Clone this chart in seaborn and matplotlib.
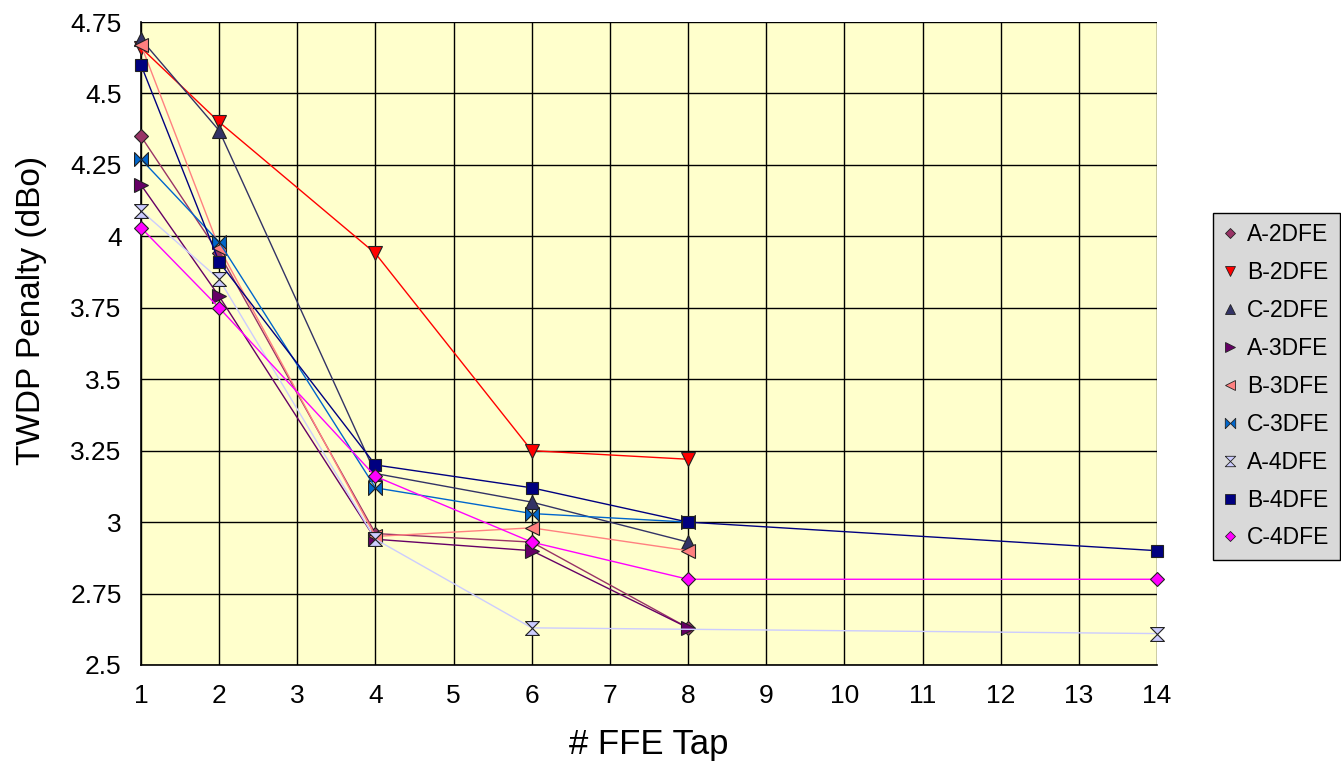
import numpy as np
import pandas as pd
import matplotlib
matplotlib.use("Agg")
import matplotlib.pyplot as plt
import seaborn as sns
from matplotlib.lines import Line2D

# ---- data ----
series_names = ["A-2DFE", "B-2DFE", "C-2DFE", "A-3DFE", "B-3DFE",
                "C-3DFE", "A-4DFE", "B-4DFE", "C-4DFE"]
x_a2 = [1, 2, 4, 6, 8];      y_a2 = [4.35, 3.94, 2.96, 2.93, 2.63]
x_b2 = [1, 2, 4, 6, 8];      y_b2 = [4.66, 4.40, 3.94, 3.25, 3.22]
x_c2 = [1, 2, 4, 6, 8];      y_c2 = [4.69, 4.37, 3.17, 3.07, 2.93]
x_a3 = [1, 2, 4, 6, 8];      y_a3 = [4.18, 3.79, 2.94, 2.90, 2.63]
x_b3 = [1, 2, 4, 6, 8];      y_b3 = [4.67, 3.96, 2.95, 2.98, 2.90]
x_c3 = [1, 2, 4, 6, 8];      y_c3 = [4.27, 3.98, 3.12, 3.03, 3.00]
x_a4 = [1, 2, 4, 6, 14];     y_a4 = [4.09, 3.85, 2.94, 2.63, 2.61]
x_b4 = [1, 2, 4, 6, 8, 14];  y_b4 = [4.60, 3.91, 3.20, 3.12, 3.00, 2.90]
x_c4 = [1, 2, 4, 6, 8, 14];  y_c4 = [4.03, 3.75, 3.16, 2.93, 2.80, 2.80]

xs = [x_a2, x_b2, x_c2, x_a3, x_b3, x_c3, x_a4, x_b4, x_c4]
ys = [y_a2, y_b2, y_c2, y_a3, y_b3, y_c3, y_a4, y_b4, y_c4]

x_ticks = list(range(1, 15))
y_ticks = [2.5, 2.75, 3, 3.25, 3.5, 3.75, 4, 4.25, 4.5, 4.75]
y_tick_labels = ["2.5", "2.75", "3", "3.25", "3.5", "3.75", "4", "4.25", "4.5", "4.75"]

# ---- styles ----
colors = ["#993366", "#FF0000", "#333366", "#660066", "#FF8080",
          "#0066CC", "#CCCCFF", "#000080", "#FF00FF"]
bowtie = [(-1, -1), (-1, 1), (0, 0), (1, 1), (1, -1), (0, 0), (-1, -1)]
hourglass = [(-1, 1), (1, 1), (0, 0), (1, -1), (-1, -1), (0, 0), (-1, 1)]
markers = ["D", "v", "^", ">", "<", bowtie, hourglass, "s", "D"]
msizes = [7, 10, 10, 10, 10, 10, 10, 9, 7]

sns.set_theme(style="white")
plt.rcParams["font.family"] = ["Liberation Sans", "DejaVu Sans"]
plt.rcParams["text.color"] = "black"
plt.rcParams["axes.labelcolor"] = "black"
plt.rcParams["xtick.color"] = "black"
plt.rcParams["ytick.color"] = "black"

fig = plt.figure(figsize=(13.41, 7.68), dpi=100)
ax = fig.add_axes([141 / 1341, 1 - 665 / 768, (1157 - 141) / 1341, (665 - 22) / 768])
ax.set_facecolor("#FFFFCC")

rows = []
for name, xv, yv in zip(series_names, xs, ys):
    for a, b in zip(xv, yv):
        rows.append({"series": name, "x": a, "y": b})
df = pd.DataFrame(rows)

for i, name in enumerate(series_names):
    sub = df[df["series"] == name]
    sns.lineplot(data=sub, x="x", y="y", ax=ax, color=colors[i], linewidth=1.0,
                 marker=markers[i], markersize=msizes[i], markeredgecolor="#222222",
                 markeredgewidth=0.8, markerfacecolor=colors[i], zorder=3 + i,
                 estimator=None, sort=False, legend=False, clip_on=False)

ax.set_xlim(1, 14)
ax.set_ylim(2.5, 4.75)
ax.set_xticks(x_ticks)
ax.set_xticklabels([str(t) for t in x_ticks], fontsize=19)
ax.set_yticks(y_ticks)
ax.set_yticklabels(y_tick_labels, fontsize=19)
ax.grid(True, color="black", linewidth=1.0)
ax.set_axisbelow(True)
for s in ["left", "bottom"]:
    ax.spines[s].set_color("black")
    ax.spines[s].set_linewidth(1.2)
for s in ["top", "right"]:
    ax.spines[s].set_visible(False)
ax.tick_params(axis="y", direction="out", length=8, width=1, color="black", pad=6)
ax.tick_params(axis="x", direction="out", length=7, width=1, color="black", pad=7)
ax.set_xlabel("# FFE Tap", fontsize=25, labelpad=14)
ax.set_ylabel("TWDP Penalty (dBo)", fontsize=24)
ax.yaxis.set_label_coords(-0.093, 0.552)

handles = [Line2D([], [], linestyle="none", marker=markers[i], markersize=msizes[i] * 0.75,
                  markerfacecolor=colors[i], markeredgecolor="#222222", markeredgewidth=0.6)
           for i in range(len(series_names))]
leg = fig.legend(handles, series_names, loc="upper left",
                 bbox_to_anchor=(1213 / 1341, 1 - 213 / 768), fontsize=16.5,
                 frameon=True, fancybox=False, edgecolor="black", facecolor="#D9D9D9",
                 framealpha=1, labelspacing=0.65, handlelength=0.6, handletextpad=0.45,
                 borderpad=0.45, borderaxespad=0)
leg.get_frame().set_linewidth(1.0)

fig.savefig("out.png", dpi=100, facecolor="white")
